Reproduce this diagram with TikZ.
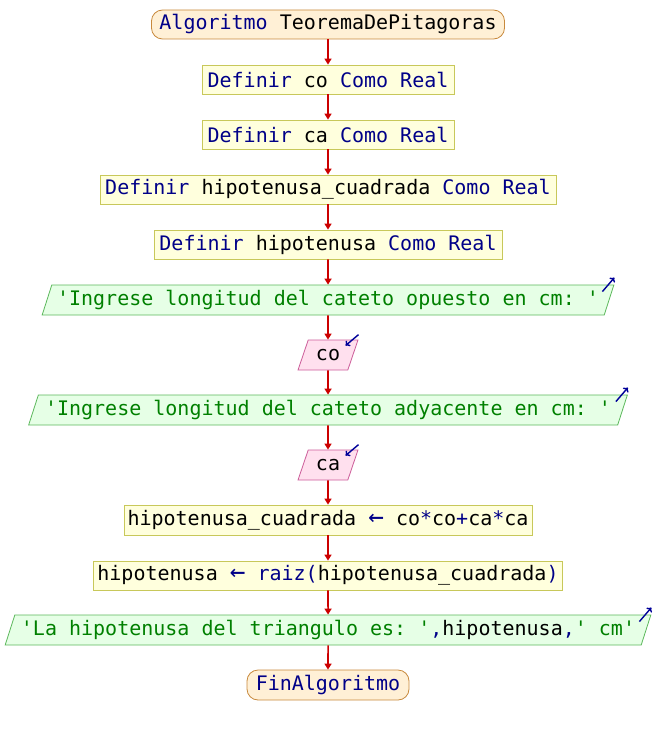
\documentclass[tikz,border=0pt]{standalone}
\usepackage{fontspec}
\setmonofont{DejaVu Sans Mono}
\usetikzlibrary{shapes.geometric,arrows.meta}
\definecolor{kw}{HTML}{000088}
\definecolor{str}{HTML}{008000}
\definecolor{flow}{HTML}{CC0000}
\definecolor{termfill}{HTML}{FFF0D6}
\definecolor{termdraw}{HTML}{C8893C}
\definecolor{procfill}{HTML}{FFFFDD}
\definecolor{procdraw}{HTML}{C8C85A}
\definecolor{outfill}{HTML}{E6FFE6}
\definecolor{outdraw}{HTML}{5CB85C}
\definecolor{infill}{HTML}{FFE0EE}
\definecolor{indraw}{HTML}{CC5C99}
\definecolor{icon}{HTML}{000099}
\tikzset{
  base/.style={font=\ttfamily\fontsize{20}{24}\selectfont, inner sep=2pt, text=black, line width=0.8pt},
  term/.style={base, rectangle, rounded corners=11pt, draw=termdraw, fill=termfill, minimum height=29pt},
  proc/.style={base, rectangle, draw=procdraw, fill=procfill, minimum height=29pt},
  para/.style={base, trapezium, trapezium stretches=true, trapezium left angle=68.2, trapezium right angle=111.8, minimum height=30pt, inner xsep=0pt},
  outbox/.style={para, draw=outdraw, fill=outfill},
  inbox/.style={para, draw=indraw, fill=infill},
  flowarrow/.style={draw=flow, line width=1.6pt, -{Triangle[width=7pt,length=6pt]}},
  iconarrow/.style={draw=icon, line width=1.4pt, -{To[length=4pt,width=7pt]}}
}
\begin{document}
\begin{tikzpicture}[x=1pt,y=-1pt]
\useasboundingbox (0,0) rectangle (656,735);
\node[term, minimum width=353pt] (n1) at (328,24.5) {\textcolor{kw}{Algoritmo} TeoremaDePitagoras};
\node[proc, minimum width=252pt] (n2) at (328,79.5) {\textcolor{kw}{Definir} co \textcolor{kw}{Como Real}};
\node[proc, minimum width=252pt] (n3) at (328,134.5) {\textcolor{kw}{Definir} ca \textcolor{kw}{Como Real}};
\node[proc, minimum width=456pt] (n4) at (328,189.5) {\textcolor{kw}{Definir} hipotenusa\_cuadrada \textcolor{kw}{Como Real}};
\node[proc, minimum width=348pt] (n5) at (328,244.5) {\textcolor{kw}{Definir} hipotenusa \textcolor{kw}{Como Real}};
\node[outbox, minimum width=576pt] (n6) at (328,300) {\textcolor{str}{'Ingrese longitud del cateto opuesto en cm: '}};
\node[inbox, minimum width=60pt] (n7) at (328,355) {co};
\node[outbox, minimum width=599pt] (n8) at (328,410) {\textcolor{str}{'Ingrese longitud del cateto adyacente en cm: '}};
\node[inbox, minimum width=60pt] (n9) at (328,465) {ca};
\node[proc, minimum width=408pt, minimum height=30pt] (n10) at (328,520) {hipotenusa\_cuadrada \textcolor{kw}{\scalebox{1.3}{←}} co\textcolor{kw}{*}co\textcolor{kw}{+}ca\textcolor{kw}{*}ca};
\node[proc, minimum width=469pt] (n11) at (328,575.5) {hipotenusa \textcolor{kw}{\scalebox{1.3}{←}} \textcolor{kw}{raiz(}hipotenusa\_cuadrada\textcolor{kw}{)}};
\node[outbox, minimum width=649pt] (n12) at (328,630) {\textcolor{str}{'La hipotenusa del triangulo es: '}\textcolor{kw}{,}hipotenusa\textcolor{kw}{,}\textcolor{str}{' cm'}};
\node[term, minimum width=162pt, minimum height=30pt] (n13) at (328,685) {\textcolor{kw}{FinAlgoritmo}};
\foreach \a/\b in {n1/n2,n2/n3,n3/n4,n4/n5,n5/n6,n6/n7,n7/n8,n8/n9,n9/n10,n10/n11,n11/n12,n12/n13}
  \draw[flowarrow] (\a.south) -- (\b.north);
\foreach \o in {n6,n8,n12}
  \draw[iconarrow] ([shift={(-12,7)}]\o.top right corner) -- ([shift={(0,-7)}]\o.top right corner);
\foreach \i in {n7,n9}
  \draw[iconarrow] ([shift={(0,-5)}]\i.top right corner) -- ([shift={(-13,6)}]\i.top right corner);
\end{tikzpicture}
\end{document}
